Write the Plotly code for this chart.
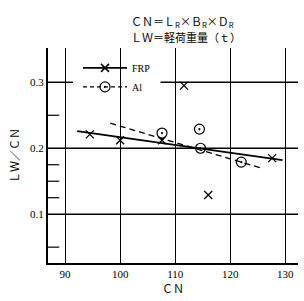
import plotly.graph_objects as go

# Data
frp_cn = [94.5, 100.0, 107.6, 111.6, 116.0, 127.6]
frp_lwcn = [0.221, 0.212, 0.212, 0.295, 0.129, 0.185]
al_cn = [107.6, 114.4, 114.6, 122.0]
al_lwcn = [0.223, 0.229, 0.200, 0.179]
# regression lines (end points)
frp_fit_cn = [92.2, 129.5]
frp_fit_lwcn = [0.226, 0.182]
al_fit_cn = [98.2, 125.6]
al_fit_lwcn = [0.238, 0.170]

x_ticks = [90, 100, 110, 120, 130]
y_ticks = [0.1, 0.2, 0.3]
y_tick_labels = ["0.1", "0.2", "0.3"]
y_minor = [0.05, 0.125, 0.15, 0.175, 0.25]

serif = "Liberation Serif"
cjk = "Noto Sans CJK JP"

fig = go.Figure()
fig.add_trace(go.Scatter(x=frp_cn, y=frp_lwcn, mode="markers", showlegend=False,
                         marker=dict(symbol="x-thin-open", size=8, color="black",
                                     line=dict(width=1.3, color="black"))))
fig.add_trace(go.Scatter(x=al_cn, y=al_lwcn, mode="markers", showlegend=False,
                         marker=dict(symbol="circle-open-dot", size=10, color="black",
                                     line=dict(width=1.2, color="black"))))
fig.add_trace(go.Scatter(x=frp_fit_cn, y=frp_fit_lwcn, mode="lines", showlegend=False,
                         line=dict(color="black", width=1.6)))
fig.add_trace(go.Scatter(x=al_fit_cn, y=al_fit_lwcn, mode="lines", showlegend=False,
                         line=dict(color="black", width=1.3, dash="6px,4px")))
# legend entries
fig.add_trace(go.Scatter(x=[None], y=[None], mode="lines+markers", name="FRP",
                         marker=dict(symbol="x-thin-open", size=8, color="black",
                                     line=dict(width=1.5, color="black")),
                         line=dict(color="black", width=1.6)))
fig.add_trace(go.Scatter(x=[None], y=[None], mode="lines+markers", name="Al",
                         marker=dict(symbol="circle-open-dot", size=10, color="black",
                                     line=dict(width=1.2, color="black")),
                         line=dict(color="black", width=1.3, dash="4px,3px")))

shapes = []
for v in y_ticks:
    if v == 0.3:
        shapes.append(dict(type="line", xref="paper", yref="y", x0=0, x1=0.1, y0=v, y1=v,
                           line=dict(color="black", width=1.5)))
        shapes.append(dict(type="line", xref="paper", yref="y", x0=0.45, x1=1, y0=v, y1=v,
                           line=dict(color="black", width=1.5)))
    else:
        shapes.append(dict(type="line", xref="paper", yref="y", x0=0, x1=1, y0=v, y1=v,
                           line=dict(color="black", width=1.5)))
for v in y_minor:
    shapes.append(dict(type="line", xref="paper", yref="y", x0=0, x1=0.045, y0=v, y1=v,
                       line=dict(color="black", width=1.2)))

fig.update_layout(
    width=304, height=301,
    margin=dict(l=48, r=6, t=48, b=38),
    paper_bgcolor="white", plot_bgcolor="white",
    shapes=shapes,
    showlegend=True,
    legend=dict(x=0.12, y=0.975, xanchor="left", yanchor="top", bgcolor="rgba(0,0,0,0)",
                font=dict(family=serif, size=10, color="black"), itemwidth=44,
                tracegroupgap=0),
    xaxis=dict(range=[86.9, 132.3], tickvals=x_ticks, showgrid=True,
               gridcolor="black", gridwidth=1.3, zeroline=False,
               showline=True, linecolor="black", linewidth=2, ticks="",
               tickfont=dict(family=serif, size=11, color="black"),
               title=dict(text="ＣＮ", font=dict(family=cjk, size=11, color="black"), standoff=4)),
    yaxis=dict(range=[0.026, 0.352], tickvals=y_ticks, ticktext=y_tick_labels,
               showgrid=False, zeroline=False,
               showline=True, linecolor="black", linewidth=2, ticks="",
               tickfont=dict(family=serif, size=11, color="black"),
               title=dict(text="ＬＷ／ＣＮ", font=dict(family=cjk, size=11, color="black"), standoff=8)),
    annotations=[
        dict(text="ＣＮ＝Ｌ<sub>R</sub>×Ｂ<sub>R</sub>×Ｄ<sub>R</sub>", xref="paper", yref="paper",
             x=(129 - 48) / 250, y=1 + (48 - 22) / 215, xanchor="left", yanchor="middle",
             showarrow=False, font=dict(family=cjk, size=11, color="black")),
        dict(text="ＬＷ＝軽荷重量（ｔ）", xref="paper", yref="paper",
             x=(129 - 48) / 250, y=1 + (48 - 37) / 215, xanchor="left", yanchor="middle",
             showarrow=False, font=dict(family=cjk, size=11, color="black")),
    ],
)

fig.write_html("out.html")
